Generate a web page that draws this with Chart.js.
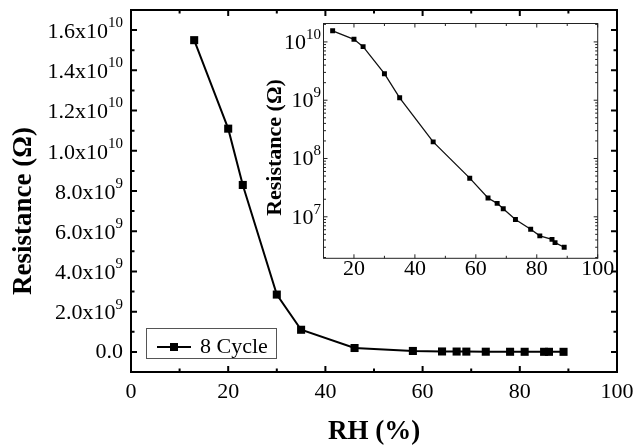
<!DOCTYPE html>
<html>
<head>
<meta charset="utf-8">
<script src="https://cdn.jsdelivr.net/npm/chart.js@4.4.0/dist/chart.umd.min.js"></script>
<style>
html, body { margin: 0; padding: 0; background: #fff; }
#wrap { position: relative; width: 636px; height: 445px; }
#main { position: absolute; left: 0; top: 0; }
#inset { position: absolute; left: 240px; top: 0; }
</style>
</head>
<body>
<div id="wrap">
  <canvas id="main" width="636" height="445"></canvas>
  <canvas id="inset" width="380" height="290"></canvas>
</div>
<script>
/* DATA */
const rh = [13, 20, 23, 30, 35, 46, 58, 64, 67, 69, 73, 78, 81, 85, 86, 89]
const resistance = [1.55e10, 1.11e10, 8.3e9, 2.85e9, 1.1e9, 1.93e8, 4.6e7, 2.1e7, 1.7e7, 1.37e7, 9.0e6, 6.1e6, 4.7e6, 4.1e6, 3.6e6, 3.0e6]
const seriesName = '8 Cycle'

const xTicks = [0, 20, 40, 60, 80, 100]
const yTicks = [0, 2e9, 4e9, 6e9, 8e9, 1e10, 1.2e10, 1.4e10, 1.6e10]
const yTickBase = ['0.0', '2.0x10', '4.0x10', '6.0x10', '8.0x10', '1.0x10', '1.2x10', '1.4x10', '1.6x10']
const yTickExp = ['', '9', '9', '9', '9', '10', '10', '10', '10']

const insetXTicks = [20, 40, 60, 80, 100]
const insetYTicks = [1e7, 1e8, 1e9, 1e10]
const insetYBase = ['10', '10', '10', '10']
const insetYExp = ['7', '8', '9', '10']

const FONT = '"Liberation Serif", "Times New Roman", serif'
const points = rh.map((x, i) => ({x: x, y: resistance[i]}))

/* HELPERS */
function supLabel(ctx, base, exp, right, py, baseSize, supSize, baseDy, supDy){
    ctx.font = baseSize + 'px ' + FONT
    const wb = ctx.measureText(base).width
    ctx.font = supSize + 'px ' + FONT
    const we = exp ? ctx.measureText(exp).width : 0
    ctx.textAlign = 'left'
    ctx.textBaseline = 'middle'
    ctx.font = baseSize + 'px ' + FONT
    ctx.fillText(base, right - we - wb, py + (exp ? baseDy : 0))
    if(exp){
        ctx.font = supSize + 'px ' + FONT
        ctx.fillText(exp, right - we, py + supDy)
    }
}

function mids(arr){
    const out = []
    for(let i = 0; i < arr.length - 1; i++) out.push((arr[i] + arr[i + 1]) / 2)
    return out
}

function rotatedText(ctx, text, cx, cy, font){
    ctx.save()
    ctx.translate(cx, cy)
    ctx.rotate(-Math.PI / 2)
    ctx.font = font
    ctx.textAlign = 'center'
    ctx.textBaseline = 'middle'
    ctx.fillText(text, 0, 0)
    ctx.restore()
}

/* MAIN CHART */
const mainFrame = {
    id: 'mainFrame',
    afterDraw(chart){
        const {ctx, chartArea: a, scales: {x, y}} = chart
        ctx.save()
        ctx.strokeStyle = '#000'
        ctx.fillStyle = '#000'
        ctx.lineWidth = 2
        ctx.strokeRect(a.left, a.top, a.right - a.left, a.bottom - a.top)

        ctx.beginPath()
        const xt = (v, len) => {
            const px = x.getPixelForValue(v)
            ctx.moveTo(px, a.bottom); ctx.lineTo(px, a.bottom - len)
            ctx.moveTo(px, a.top); ctx.lineTo(px, a.top + len)
        }
        const yt = (v, len) => {
            const py = y.getPixelForValue(v)
            ctx.moveTo(a.left, py); ctx.lineTo(a.left + len, py)
            ctx.moveTo(a.right, py); ctx.lineTo(a.right - len, py)
        }
        x.ticks.forEach(t => xt(t.value, 6))
        mids(xTicks).forEach(v => xt(v, 3.5))
        y.ticks.forEach(t => yt(t.value, 6))
        mids(yTicks).forEach(v => yt(v, 3.5))
        ctx.stroke()

        // tick labels
        ctx.font = '22px ' + FONT
        ctx.textAlign = 'center'
        ctx.textBaseline = 'middle'
        x.ticks.forEach(t => ctx.fillText(String(t.value), x.getPixelForValue(t.value), 392))
        y.ticks.forEach((t, i) => {
            supLabel(ctx, yTickBase[i], yTickExp[i], 123, y.getPixelForValue(t.value), 22, 15, 2, -7)
        })

        // axis titles
        ctx.font = 'bold 27px ' + FONT
        ctx.textAlign = 'center'
        ctx.textBaseline = 'middle'
        ctx.fillText('RH (%)', (a.left + a.right) / 2, 432)
        rotatedText(ctx, 'Resistance (\u03A9)', 24, 211, 'bold 27px ' + FONT)

        // legend
        ctx.lineWidth = 1
        ctx.strokeStyle = '#555'
        ctx.strokeRect(146.5, 328.5, 130, 30)
        ctx.strokeStyle = '#000'
        ctx.lineWidth = 2
        ctx.beginPath()
        ctx.moveTo(157, 347); ctx.lineTo(191, 347)
        ctx.stroke()
        ctx.fillRect(170, 343, 8, 8)
        ctx.font = '22px ' + FONT
        ctx.textAlign = 'left'
        ctx.textBaseline = 'middle'
        ctx.fillText(seriesName, 200, 347)
        ctx.restore()
    }
}

new Chart(document.getElementById('main'), {
    type: 'scatter',
    data: {
        datasets: [{
            label: seriesName,
            data: points,
            showLine: true,
            borderColor: '#000',
            borderWidth: 2,
            pointStyle: 'rect',
            pointRadius: 5.7,
            pointBackgroundColor: '#000',
            pointBorderWidth: 0,
            tension: 0
        }]
    },
    options: {
        responsive: false,
        animation: false,
        devicePixelRatio: 1,
        layout: {padding: {top: 10, right: 19, left: 0, bottom: 0}},
        plugins: {legend: {display: false}, tooltip: {enabled: false}},
        scales: {
            x: {
                type: 'linear', min: 0, max: 100,
                grid: {display: false}, border: {display: false},
                ticks: {display: false},
                afterBuildTicks: s => { s.ticks = xTicks.map(v => ({value: v})) },
                afterFit: s => { s.height = 73 }
            },
            y: {
                type: 'linear', min: -1e9, max: 1.7e10,
                grid: {display: false}, border: {display: false},
                ticks: {display: false},
                afterBuildTicks: s => { s.ticks = yTicks.map(v => ({value: v})) },
                afterFit: s => { s.width = 131 }
            }
        }
    },
    plugins: [mainFrame]
})

/* INSET CHART */
const insetFrame = {
    id: 'insetFrame',
    afterDraw(chart){
        const {ctx, chartArea: a, scales: {x, y}} = chart
        ctx.save()
        ctx.strokeStyle = '#222'
        ctx.fillStyle = '#000'
        ctx.lineWidth = 1
        ctx.strokeRect(a.left, a.top, a.right - a.left, a.bottom - a.top)

        ctx.beginPath()
        const xt = (v, len) => {
            const px = x.getPixelForValue(v)
            ctx.moveTo(px, a.bottom); ctx.lineTo(px, a.bottom - len)
            ctx.moveTo(px, a.top); ctx.lineTo(px, a.top + len)
        }
        const yt = (v, len) => {
            const py = y.getPixelForValue(v)
            ctx.moveTo(a.left, py); ctx.lineTo(a.left + len, py)
            ctx.moveTo(a.right, py); ctx.lineTo(a.right - len, py)
        }
        x.ticks.forEach(t => xt(t.value, 4))
        mids(insetXTicks).forEach(v => xt(v, 2.5))
        y.ticks.forEach(t => yt(t.value, 4))
        // log minor ticks 2..9 of every decade inside the range
        for(let d = 1e6; d <= 1e10; d *= 10){
            for(let k = 2; k <= 9; k++){
                const v = d * k
                if(v > y.min && v < y.max) yt(v, 2.5)
            }
        }
        ctx.stroke()

        ctx.font = '22px ' + FONT
        ctx.textAlign = 'center'
        ctx.textBaseline = 'middle'
        x.ticks.forEach(t => ctx.fillText(String(t.value), x.getPixelForValue(t.value), 269))
        y.ticks.forEach((t, i) => {
            supLabel(ctx, insetYBase[i], insetYExp[i], 81, y.getPixelForValue(t.value), 22, 15, 1, -7)
        })
        rotatedText(ctx, 'Resistance (\u03A9)', 35, 147.5, 'bold 22px ' + FONT)
        ctx.restore()
    }
}

new Chart(document.getElementById('inset'), {
    type: 'scatter',
    data: {
        datasets: [{
            label: seriesName,
            data: points,
            showLine: true,
            borderColor: '#111',
            borderWidth: 1.3,
            pointStyle: 'rect',
            pointRadius: 3.5,
            pointBackgroundColor: '#000',
            pointBorderWidth: 0,
            tension: 0
        }]
    },
    options: {
        responsive: false,
        animation: false,
        devicePixelRatio: 1,
        layout: {padding: {top: 23.5, right: 22.3, left: 0, bottom: 0}},
        plugins: {legend: {display: false}, tooltip: {enabled: false}},
        scales: {
            x: {
                type: 'linear', min: 10, max: 100,
                grid: {display: false}, border: {display: false},
                ticks: {display: false},
                afterBuildTicks: s => { s.ticks = insetXTicks.map(v => ({value: v})) },
                afterFit: s => { s.height = 31.7 }
            },
            y: {
                type: 'logarithmic', min: 1.94e6, max: 2.07e10,
                grid: {display: false}, border: {display: false},
                ticks: {display: false},
                afterBuildTicks: s => { s.ticks = insetYTicks.map(v => ({value: v})) },
                afterFit: s => { s.width = 83.5 }
            }
        }
    },
    plugins: [insetFrame]
})
</script>
</body>
</html>
